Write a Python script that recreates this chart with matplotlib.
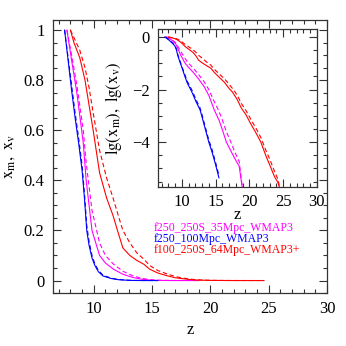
import matplotlib
matplotlib.use("Agg")
import matplotlib.pyplot as plt
import numpy as np
from matplotlib.ticker import MultipleLocator, FuncFormatter

plt.rcParams['font.family'] = ['Liberation Serif', 'DejaVu Serif']
plt.rcParams['mathtext.fontset'] = 'stix'

# f250_100Mpc_WMAP3 (blue)
z_blue = [7.5, 7.8, 8.1, 8.4, 8.7, 9.0, 9.2, 9.4, 9.6, 9.85, 10.1, 10.4, 10.8, 11.5,
          12.1, 12.7, 13.0, 13.5, 14.0, 14.5, 15.0, 15.5]
xm_blue = [1.0, 0.88, 0.76, 0.65, 0.55, 0.44, 0.33, 0.2, 0.14, 0.09, 0.06, 0.035, 0.018,
           0.008, 0.0035, 0.0017, 0.0009, 0.0003, 0.0001, 4e-5, 1.4e-5, 4.4e-6]
xv_blue = [1.0, 0.89, 0.78, 0.67, 0.57, 0.46, 0.35, 0.22, 0.155, 0.1, 0.066, 0.04, 0.021,
           0.0095, 0.0042, 0.002, 0.0011, 0.00036, 0.00012, 5e-5, 1.7e-5, 5.5e-6]

# f250_250S_35Mpc_WMAP3 (magenta)
z_mag = [7.7, 8.1, 8.55, 9.1, 9.35, 9.85, 10.5, 11.0, 11.7, 12.5, 13.3, 14.0, 14.8, 15.5,
         16.0, 16.6, 17.2, 17.8, 18.5, 19.0]
xm_mag = [1.0, 0.88, 0.75, 0.55, 0.4, 0.2, 0.1, 0.07, 0.045, 0.025, 0.013, 0.006, 0.0017,
          0.0007, 0.0003, 1e-4, 5e-5, 2.5e-5, 1.2e-5, 1.5e-6]
xv_mag = [1.0, 0.9, 0.78, 0.6, 0.47, 0.28, 0.15, 0.1, 0.065, 0.037, 0.02, 0.01, 0.0035,
          0.0015, 0.0007, 0.00025, 1.1e-4, 4.5e-5, 1.8e-5, 1.5e-6]

# f100_250S_64Mpc_WMAP3+ (red)
z_red = [8.0, 8.3, 8.8, 9.25, 9.6, 9.95, 10.5, 11.1, 11.65, 12.1, 12.5, 13.1, 13.7, 14.3,
         14.8, 15.5, 16.3, 17.0, 17.5, 18.2, 18.8, 19.5, 20.2, 21.0, 21.7, 22.5, 23.1,
         23.7, 24.2, 24.6]
xm_red = [1.0, 0.95, 0.89, 0.8, 0.7, 0.6, 0.43, 0.33, 0.26, 0.19, 0.13, 0.1, 0.08, 0.065,
          0.045, 0.03, 0.019, 0.011, 0.008, 0.0042, 0.002, 0.0011, 0.0005, 0.00022, 0.0001,
          2.8e-5, 1.2e-5, 5e-6, 3e-6, 1.5e-6]
xv_red = [1.0, 0.97, 0.92, 0.85, 0.77, 0.67, 0.52, 0.41, 0.33, 0.26, 0.2, 0.15, 0.11, 0.085,
          0.06, 0.04, 0.026, 0.016, 0.011, 0.0062, 0.003, 0.0016, 0.00075, 0.00033, 0.00015,
          4.5e-5, 2e-5, 8e-6, 4e-6, 1.5e-6]

labels = ['f250_250S_35Mpc_WMAP3', 'f250_100Mpc_WMAP3', 'f100_250S_64Mpc_WMAP3+']
colors = ['#ff00ff', '#0000ff', '#ff0000']
series = [(z_mag, xm_mag, xv_mag), (z_blue, xm_blue, xv_blue), (z_red, xm_red, xv_red)]

fig = plt.figure(figsize=(3.46, 3.46), dpi=100)
ax = fig.add_axes([0.153, 0.153, 0.792, 0.789])
ins = fig.add_axes([0.457, 0.460, 0.459, 0.456])

for (z, xm, xv), c in zip(series, colors):
    ax.plot(z, xm, color=c, lw=0.8)
    ax.plot(z, xv, color=c, lw=0.8, ls=(0, (4, 2.5)))
    ins.plot(z, np.log10(xm), color=c, lw=0.8)
    ins.plot(z, np.log10(xv), color=c, lw=0.8, ls=(0, (4, 2.5)))

ax.set_xlim(6.5, 30)
ax.set_ylim(-0.05, 1.04)
ax.xaxis.set_major_locator(MultipleLocator(5))
ax.xaxis.set_minor_locator(MultipleLocator(1))
ax.yaxis.set_major_locator(MultipleLocator(0.2))
ax.yaxis.set_minor_locator(MultipleLocator(0.05))
ax.yaxis.set_major_formatter(FuncFormatter(lambda v, p: '%g' % round(v, 2)))
ax.set_xlabel('z', fontsize=12, labelpad=3)
ax.set_ylabel(r'$\mathrm{x_m,\ x_v}$', fontsize=12, labelpad=5)

ins.set_xlim(6.5, 30)
ins.set_ylim(-5.7, 0.3)
ins.xaxis.set_major_locator(MultipleLocator(5))
ins.xaxis.set_minor_locator(MultipleLocator(1))
ins.yaxis.set_major_locator(MultipleLocator(2))
ins.yaxis.set_minor_locator(MultipleLocator(0.5))
ins.yaxis.set_major_formatter(FuncFormatter(lambda v, p: '%d' % v if v >= 0 else '\u2212%d' % -v))
ins.set_ylabel(r'$\mathrm{lg(x_m),\ lg(x_v)}$', fontsize=12, labelpad=6)

for a in (ax, ins):
    a.tick_params(which='both', direction='in', top=True, right=True, labelsize=12,
                  width=0.8, color='#333333', pad=6)
    a.tick_params(which='major', length=6)
    a.tick_params(which='minor', length=3)
    for s in a.spines.values():
        s.set_linewidth(0.9)
        s.set_color('#333333')

ins.tick_params(axis='x', which='both', pad=5)
ins.set_xlabel('z', fontsize=12, labelpad=-2)

for i, (lab, c) in enumerate(zip(labels, colors)):
    ax.text(0.367, 0.238 - i * 0.041, lab, color=c, fontsize=8.5, va='center',
            transform=ax.transAxes)

fig.savefig('out.png', dpi=100)
